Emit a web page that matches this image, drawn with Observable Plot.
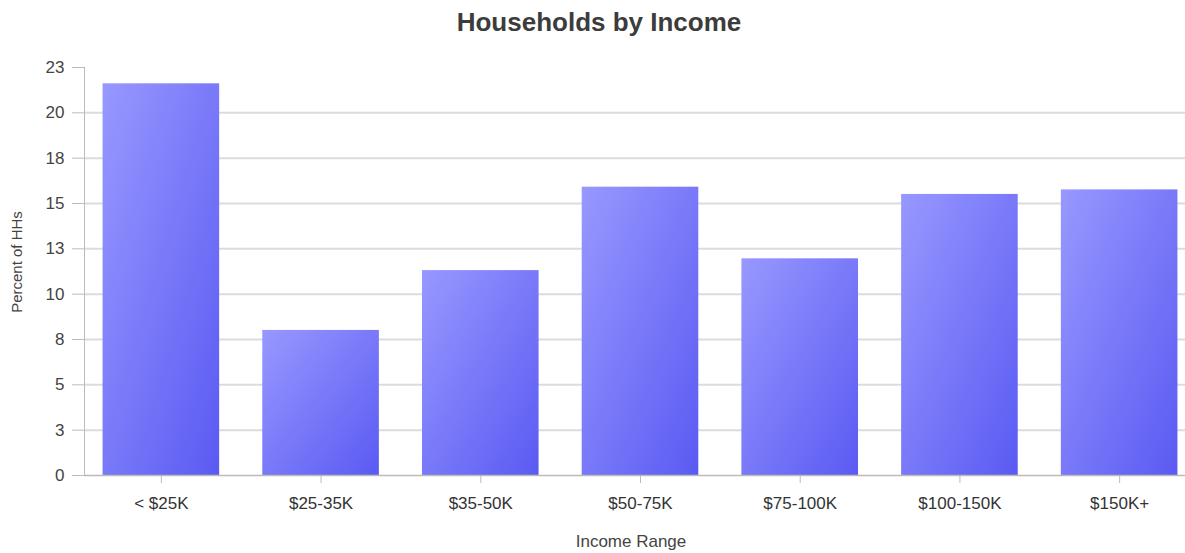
<!DOCTYPE html>
<html>
<head>
<meta charset="utf-8">
<script src="https://cdn.jsdelivr.net/npm/d3@7"></script>
<script src="https://cdn.jsdelivr.net/npm/@observablehq/plot@0.6"></script>
<style>
  html, body { margin: 0; padding: 0; background: #fff; }
  #title { height: 45px; line-height: 45px; text-align: center; font-family: "Liberation Sans", Arial, sans-serif; font-weight: bold; font-size: 26px; color: #3c3c3c; width: 1198px; }
  svg { overflow: hidden; }
</style>
</head>
<body>
<div id="title">Households by Income</div>
<div id="chart"></div>
<script>
const categories = ["< $25K", "$25-35K", "$35-50K", "$50-75K", "$75-100K", "$100-150K", "$150K+"];
const percents = [21.6, 8.0, 11.3, 15.9, 11.95, 15.5, 15.75];
const yTicks = [0, 2.5, 5, 7.5, 10, 12.5, 15, 17.5, 20, 22.5];
const yTickLabels = ["0", "3", "5", "8", "10", "13", "15", "18", "20", "23"];

const data = categories.map((c, i) => ({category: c, value: percents[i]}));
const gridTicks = yTicks.filter(t => t > 0 && t < 22.5);

const font = "'Liberation Sans', Arial, sans-serif";

const chart = Plot.plot({
  width: 1185,
  height: 508,
  marginTop: 22,
  marginBottom: 78,
  marginLeft: 84,
  marginRight: 0,
  style: {fontFamily: font, fontSize: "17px", color: "#444", background: "#fff"},
  x: {domain: categories, range: [81, 1199], round: false, paddingInner: 0.27, paddingOuter: 0.135, label: null},
  y: {domain: [0, 22.5], label: null},
  marks: [
    Plot.ruleY(gridTicks, {y: d => d, stroke: "#dcdcdc", strokeWidth: 2}),
    Plot.barY(data, {x: "category", y: "value", fill: "url(#barGrad)", style: "filter: drop-shadow(0px 0px 2px rgba(60,60,120,0.25))"}),
    Plot.axisY({ticks: yTicks, tickFormat: (d) => yTickLabels[yTicks.indexOf(d)], tickSize: 12, tickPadding: 8, stroke: "#bbb", color: "#444", fontSize: 17, label: null}),
    Plot.frame({anchor: "left", stroke: "#bbb"}),
    Plot.axisX({tickSize: 8, tickPadding: 13, stroke: "#bbb", color: "#333", fontSize: 17, label: null}),
    Plot.ruleY([0], {stroke: "#bbb", strokeWidth: 1.5})
  ]
});

// gradient defs
const svgNS = "http://www.w3.org/2000/svg";
const defs = document.createElementNS(svgNS, "defs");
defs.innerHTML = `<linearGradient id="barGrad" x1="0" y1="0" x2="1" y2="1">
  <stop offset="0%" stop-color="#9898ff"/>
  <stop offset="100%" stop-color="#5a5af3"/>
</linearGradient>`;
chart.insertBefore(defs, chart.firstChild);

// axis titles as text in svg
const yTitle = document.createElementNS(svgNS, "text");
yTitle.setAttribute("transform", "translate(22, 217) rotate(-90)");
yTitle.setAttribute("text-anchor", "middle");
yTitle.setAttribute("fill", "#444");
yTitle.setAttribute("font-size", "15");
yTitle.setAttribute("font-family", font);
yTitle.textContent = "Percent of HHs";
chart.appendChild(yTitle);

const xTitle = document.createElementNS(svgNS, "text");
xTitle.setAttribute("x", 631);
xTitle.setAttribute("y", 502);
xTitle.setAttribute("text-anchor", "middle");
xTitle.setAttribute("fill", "#444");
xTitle.setAttribute("font-size", "17");
xTitle.setAttribute("font-family", font);
xTitle.textContent = "Income Range";
chart.appendChild(xTitle);

document.getElementById("chart").appendChild(chart);
</script>
</body>
</html>
